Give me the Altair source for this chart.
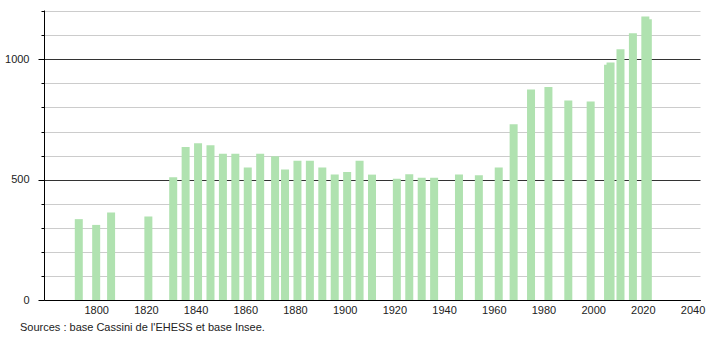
import altair as alt
import pandas as pd

years = [1793, 1800, 1806, 1821, 1831, 1836, 1841, 1846, 1851, 1856, 1861, 1866,
         1872, 1876, 1881, 1886, 1891, 1896, 1901, 1906, 1911, 1921, 1926, 1931,
         1936, 1946, 1954, 1962, 1968, 1975, 1982, 1990, 1999, 2006, 2007, 2011,
         2016, 2021, 2022]
population = [336, 312, 364, 347, 510, 636, 651, 643, 608, 608, 551, 608,
              597, 542, 579, 579, 551, 521, 532, 579, 521, 504, 522, 508,
              508, 521, 518, 551, 730, 875, 885, 829, 825, 978, 987, 1042,
              1108, 1178, 1167]
x_ticks = [1800, 1820, 1840, 1860, 1880, 1900, 1920, 1940, 1960, 1980, 2000, 2020, 2040]
y_ticks = [0, 100, 200, 300, 400, 500, 600, 700, 800, 900, 1000, 1100, 1200]
source = "Sources : base Cassini de l'EHESS et base Insee."

df = pd.DataFrame({"year": years, "pop": population})
src_df = pd.DataFrame({"t": [source]})

FONT = "Liberation Sans"

bars = alt.Chart(df).mark_bar(size=8, color="#b0e2b0").encode(
    x=alt.X("year:Q",
            scale=alt.Scale(domain=[1779, 2043], nice=False, zero=False, padding=0),
            axis=alt.Axis(values=x_ticks, format="d", title=None, grid=False,
                          ticks=False, labelPadding=4, domainColor="#000",
                          labelColor="#222", labelFontSize=11, labelFont=FONT,
                          labelFlush=False)),
    y=alt.Y("pop:Q",
            scale=alt.Scale(domain=[0, 1205], nice=False),
            axis=alt.Axis(values=y_ticks, title=None, grid=True, format="d",
                          gridColor={"condition": {"test": "datum.value % 500 === 0", "value": "#333333"}, "value": "#cccccc"},
                          gridWidth=1,
                          tickSize={"condition": {"test": "datum.value % 500 === 0", "value": 6}, "value": 3},
                          tickColor="#000", domainColor="#000",
                          labelExpr="datum.value % 500 === 0 ? datum.label : ''",
                          labelPadding=9, labelColor="#222", labelFontSize=11,
                          labelFont=FONT)),
)

txt = alt.Chart(src_df).mark_text(align="left", baseline="middle", fontSize=11,
                                  font=FONT, color="#222").encode(
    x=alt.value(-24), y=alt.value(318), text="t:N")

chart = alt.layer(bars, txt).properties(
    width=656, height=290, autosize="none",
    padding={"left": 44, "top": 10, "right": 10, "bottom": 40},
).configure_view(stroke=None)

chart.save("out.html", embed_options={"renderer": "svg", "actions": False})
